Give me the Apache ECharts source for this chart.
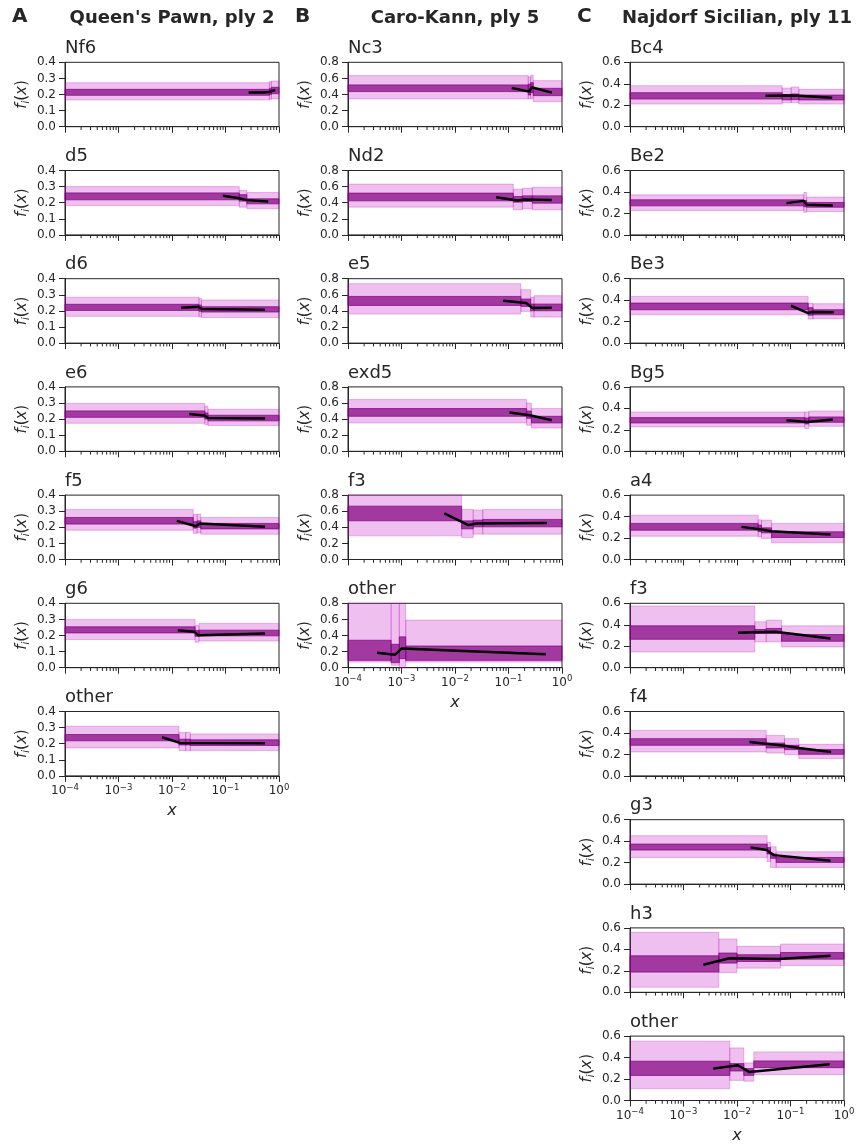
<!DOCTYPE html>
<html>
<head>
<meta charset="utf-8">
<script src="https://cdn.jsdelivr.net/npm/echarts@6/dist/echarts.min.js"></script>
<style>
  html, body { margin: 0; padding: 0; background: #fff; }
  #main { width: 860px; height: 1146px; }
</style>
</head>
<body>
<div id="main"></div>
<script>
// each bin: [x0, x1, outerLo, outerHi, innerLo, innerHi]; each line point: [x, f]
var xMinorTicks = [2e-4, 3e-4, 4e-4, 5e-4, 6e-4, 7e-4, 8e-4, 9e-4,
  2e-3, 3e-3, 4e-3, 5e-3, 6e-3, 7e-3, 8e-3, 9e-3,
  2e-2, 3e-2, 4e-2, 5e-2, 6e-2, 7e-2, 8e-2, 9e-2,
  0.2, 0.3, 0.4, 0.5, 0.6, 0.7, 0.8, 0.9];

// A - Queen's Pawn, ply 2
var qpMoves = ['Nf6', 'd5', 'd6', 'e6', 'f5', 'g6', 'other'];
var qpNf6Bins = [[1e-4, 0.66, 0.166, 0.273, 0.195, 0.232], [0.66, 0.72, 0.170, 0.280, 0.200, 0.236], [0.72, 1, 0.172, 0.284, 0.205, 0.245]];
var qpNf6Line = [[0.27, 0.213], [0.5, 0.212], [0.66, 0.216], [0.85, 0.228]];
var qpD5Bins = [[1e-4, 0.181, 0.182, 0.300, 0.218, 0.261], [0.181, 0.25, 0.172, 0.276, 0.210, 0.250], [0.25, 1, 0.162, 0.263, 0.193, 0.224]];
var qpD5Line = [[0.089, 0.243], [0.18, 0.228], [0.25, 0.216], [0.63, 0.208]];
var qpD6Bins = [[1e-4, 0.032, 0.166, 0.285, 0.203, 0.241], [0.032, 0.0355, 0.162, 0.278, 0.198, 0.236], [0.0355, 1, 0.159, 0.268, 0.193, 0.226]];
var qpD6Line = [[0.0148, 0.220], [0.031, 0.226], [0.036, 0.212], [0.55, 0.207]];
var qpE6Bins = [[1e-4, 0.041, 0.174, 0.297, 0.211, 0.251], [0.041, 0.047, 0.165, 0.280, 0.200, 0.238], [0.047, 1, 0.160, 0.261, 0.189, 0.224]];
var qpE6Line = [[0.021, 0.232], [0.041, 0.222], [0.047, 0.207], [0.55, 0.203]];
var qpF5Bins = [[1e-4, 0.025, 0.182, 0.311, 0.220, 0.261], [0.025, 0.0295, 0.162, 0.280, 0.195, 0.235], [0.0295, 0.0345, 0.165, 0.282, 0.200, 0.240], [0.0345, 1, 0.157, 0.261, 0.190, 0.224]];
var qpF5Line = [[0.0123, 0.240], [0.028, 0.207], [0.033, 0.224], [0.55, 0.203]];
var qpG6Bins = [[1e-4, 0.027, 0.175, 0.300, 0.216, 0.254], [0.027, 0.032, 0.158, 0.262, 0.195, 0.232], [0.032, 1, 0.166, 0.275, 0.198, 0.233]];
var qpG6Line = [[0.0128, 0.233], [0.026, 0.223], [0.031, 0.202], [0.55, 0.212]];
var qpOtherBins = [[1e-4, 0.0135, 0.174, 0.309, 0.218, 0.257], [0.0135, 0.018, 0.157, 0.271, 0.192, 0.228], [0.018, 0.022, 0.157, 0.270, 0.192, 0.228], [0.022, 1, 0.157, 0.261, 0.189, 0.224]];
var qpOtherLine = [[0.0065, 0.240], [0.014, 0.205], [0.55, 0.203]];

// B - Caro-Kann, ply 5
var ckMoves = ['Nc3', 'Nd2', 'e5', 'exd5', 'f3', 'other'];
var ckNc3Bins = [[1e-4, 0.234, 0.345, 0.635, 0.436, 0.519], [0.234, 0.26, 0.345, 0.620, 0.394, 0.530], [0.26, 0.29, 0.345, 0.640, 0.423, 0.547], [0.29, 1, 0.311, 0.572, 0.386, 0.477]];
var ckNc3Line = [[0.115, 0.481], [0.245, 0.436], [0.27, 0.49], [0.645, 0.423]];
var ckNd2Bins = [[1e-4, 0.123, 0.345, 0.631, 0.423, 0.519], [0.123, 0.182, 0.311, 0.568, 0.407, 0.477], [0.182, 0.279, 0.323, 0.580, 0.415, 0.485], [0.279, 1, 0.311, 0.593, 0.394, 0.485]];
var ckNd2Line = [[0.059, 0.469], [0.148, 0.427], [0.2, 0.44], [0.645, 0.435]];
var ckE5Bins = [[1e-4, 0.17, 0.361, 0.738, 0.468, 0.580], [0.17, 0.26, 0.394, 0.663, 0.456, 0.547], [0.26, 0.30, 0.323, 0.570, 0.402, 0.485], [0.30, 1, 0.323, 0.589, 0.402, 0.485]];
var ckE5Line = [[0.079, 0.526], [0.214, 0.498], [0.28, 0.435], [0.645, 0.44]];
var ckExd5Bins = [[1e-4, 0.218, 0.352, 0.643, 0.435, 0.531], [0.218, 0.268, 0.323, 0.600, 0.410, 0.500], [0.268, 1, 0.290, 0.531, 0.352, 0.435]];
var ckExd5Line = [[0.104, 0.481], [0.25, 0.448], [0.645, 0.386]];
var ckF3Bins = [[1e-4, 0.0133, 0.294, 0.8, 0.481, 0.663], [0.0133, 0.0219, 0.274, 0.622, 0.381, 0.480], [0.0219, 0.033, 0.315, 0.614, 0.406, 0.489], [0.033, 1, 0.315, 0.622, 0.406, 0.498]];
var ckF3Line = [[0.0063, 0.572], [0.0178, 0.427], [0.025, 0.448], [0.52, 0.452]];
var ckOtherBins = [[1e-4, 0.00064, 0.07, 0.8, 0.091, 0.341], [0.00064, 0.00091, 0.03, 0.8, 0.062, 0.291], [0.00091, 0.0012, 0.0, 0.8, 0.112, 0.383], [0.0012, 1, 0.07, 0.591, 0.091, 0.27]];
var ckOtherLine = [[0.00035, 0.187], [0.00076, 0.162], [0.001, 0.237], [0.5, 0.166]];

// C - Najdorf Sicilian, ply 11
var nsMoves = ['Bc4', 'Be2', 'Be3', 'Bg5', 'a4', 'f3', 'f4', 'g3', 'h3', 'other'];
var nsBc4Bins = [[1e-4, 0.070, 0.211, 0.382, 0.258, 0.317], [0.070, 0.103, 0.224, 0.360, 0.250, 0.300], [0.103, 0.143, 0.224, 0.370, 0.252, 0.305], [0.143, 1, 0.211, 0.348, 0.249, 0.295]];
var nsBc4Line = [[0.034, 0.289], [0.105, 0.291], [0.14, 0.288], [0.60, 0.27]];
var nsBe2Bins = [[1e-4, 0.177, 0.227, 0.373, 0.271, 0.327], [0.177, 0.20, 0.210, 0.395, 0.262, 0.320], [0.20, 1, 0.218, 0.352, 0.258, 0.302]];
var nsBe2Line = [[0.084, 0.296], [0.177, 0.317], [0.20, 0.28], [0.62, 0.274]];
var nsBe3Bins = [[1e-4, 0.214, 0.264, 0.435, 0.311, 0.373], [0.214, 0.263, 0.224, 0.370, 0.260, 0.330], [0.263, 1, 0.227, 0.367, 0.264, 0.311]];
var nsBe3Line = [[0.102, 0.348], [0.214, 0.28], [0.25, 0.29], [0.645, 0.288]];
var nsBg5Bins = [[1e-4, 0.185, 0.227, 0.367, 0.264, 0.314], [0.185, 0.22, 0.212, 0.367, 0.255, 0.310], [0.22, 1, 0.233, 0.376, 0.27, 0.320]];
var nsBg5Line = [[0.084, 0.289], [0.204, 0.273], [0.62, 0.296]];
var nsA4Bins = [[1e-4, 0.0249, 0.217, 0.413, 0.273, 0.336], [0.0249, 0.0287, 0.21, 0.37, 0.26, 0.32], [0.0287, 0.0442, 0.196, 0.367, 0.248, 0.295], [0.0442, 1, 0.155, 0.336, 0.205, 0.258]];
var nsA4Line = [[0.0121, 0.304], [0.0287, 0.28], [0.0442, 0.264], [0.56, 0.233]];
var nsF3Bins = [[1e-4, 0.0215, 0.147, 0.575, 0.265, 0.39], [0.0215, 0.0352, 0.24, 0.428, 0.319, 0.356], [0.0352, 0.068, 0.24, 0.443, 0.319, 0.366], [0.068, 1, 0.193, 0.39, 0.246, 0.309]];
var nsF3Line = [[0.0104, 0.325], [0.052, 0.334], [0.56, 0.272]];
var nsF4Bins = [[1e-4, 0.0352, 0.223, 0.424, 0.285, 0.347], [0.0352, 0.0773, 0.213, 0.377, 0.26, 0.306], [0.0773, 0.143, 0.198, 0.347, 0.245, 0.285], [0.143, 1, 0.161, 0.294, 0.201, 0.245]];
var nsF4Line = [[0.0171, 0.315], [0.035, 0.30], [0.077, 0.28], [0.143, 0.26], [0.575, 0.223]];
var nsG3Bins = [[1e-4, 0.0366, 0.248, 0.451, 0.317, 0.373], [0.0366, 0.0423, 0.21, 0.39, 0.28, 0.34], [0.0423, 0.054, 0.155, 0.348, 0.24, 0.28], [0.054, 1, 0.155, 0.301, 0.202, 0.248]];
var nsG3Line = [[0.0179, 0.342], [0.0356, 0.317], [0.049, 0.27], [0.56, 0.217]];
var nsH3Bins = [[1e-4, 0.00457, 0.047, 0.559, 0.188, 0.34], [0.00457, 0.01, 0.184, 0.497, 0.272, 0.366], [0.01, 0.065, 0.225, 0.428, 0.287, 0.35], [0.065, 1, 0.25, 0.45, 0.309, 0.371]];
var nsH3Line = [[0.00235, 0.256], [0.0072, 0.318], [0.06, 0.31], [0.56, 0.34]];
var nsOtherBins = [[1e-4, 0.00733, 0.109, 0.553, 0.234, 0.366], [0.00733, 0.0134, 0.1875, 0.49, 0.275, 0.344], [0.0134, 0.0206, 0.18, 0.35, 0.234, 0.297], [0.0206, 1, 0.241, 0.453, 0.306, 0.369]];
var nsOtherLine = [[0.00359, 0.297], [0.0104, 0.328], [0.0171, 0.265], [0.54, 0.337]];

var columns = [
  { letter: 'A', title: "Queen's Pawn, ply 2", left: 65, ymax: 0.4, step: 0.1, moves: qpMoves,
    bins: [qpNf6Bins, qpD5Bins, qpD6Bins, qpE6Bins, qpF5Bins, qpG6Bins, qpOtherBins],
    lines: [qpNf6Line, qpD5Line, qpD6Line, qpE6Line, qpF5Line, qpG6Line, qpOtherLine] },
  { letter: 'B', title: 'Caro-Kann, ply 5', left: 348, ymax: 0.8, step: 0.2, moves: ckMoves,
    bins: [ckNc3Bins, ckNd2Bins, ckE5Bins, ckExd5Bins, ckF3Bins, ckOtherBins],
    lines: [ckNc3Line, ckNd2Line, ckE5Line, ckExd5Line, ckF3Line, ckOtherLine] },
  { letter: 'C', title: 'Najdorf Sicilian, ply 11', left: 630, ymax: 0.6, step: 0.2, moves: nsMoves,
    bins: [nsBc4Bins, nsBe2Bins, nsBe3Bins, nsBg5Bins, nsA4Bins, nsF3Bins, nsF4Bins, nsG3Bins, nsH3Bins, nsOtherBins],
    lines: [nsBc4Line, nsBe2Line, nsBe3Line, nsBg5Line, nsA4Line, nsF3Line, nsF4Line, nsG3Line, nsH3Line, nsOtherLine] }
];

var ink = '#262626';
var font = 'DejaVu Sans';
var rowTop = 62.3, rowStep = 108.2, plotH = 64.4, plotW = 214;

function bandRenderer(color) {
  return function (params, api) {
    var p0 = api.coord([api.value(0), api.value(3)]);
    var p1 = api.coord([api.value(1), api.value(2)]);
    return {
      type: 'rect',
      shape: { x: p0[0], y: p0[1], width: p1[0] - p0[0], height: p1[1] - p0[1] },
      style: { fill: color, stroke: color, lineWidth: 1 }
    };
  };
}

function minorTick(params, api) {
  var p = api.coord([api.value(0), 0]);
  return {
    type: 'line',
    shape: { x1: p[0], y1: p[1], x2: p[0], y2: p[1] + 3.3 },
    style: { stroke: ink, lineWidth: 1 }
  };
}

function powLabel(v) {
  var e = Math.round(Math.log(v) / Math.LN10);
  return '{b|10}{s|' + (e < 0 ? '\u2212' + (-e) : e) + '}';
}

var grids = [], xAxes = [], yAxes = [], series = [], texts = [];

columns.forEach(function (col) {
  texts.push({ type: 'text', x: col.left - 53, y: 17,
    style: { text: col.letter, fontSize: 20, fontWeight: 'bold', fontFamily: font, fill: ink,
      textAlign: 'left', textVerticalAlign: 'middle' } });
  texts.push({ type: 'text', x: col.left + plotW / 2, y: 18,
    style: { text: col.title, fontSize: 18, fontWeight: 'bold', fontFamily: font, fill: ink,
      textAlign: 'center', textVerticalAlign: 'middle' } });

  col.moves.forEach(function (mv, i) {
    var gi = grids.length;
    var top = rowTop + rowStep * i;
    var last = i === col.moves.length - 1;

    texts.push({ type: 'text', x: col.left, y: top - 14,
      style: { text: mv, fontSize: 18, fontFamily: font, fill: ink,
        textAlign: 'left', textVerticalAlign: 'middle' } });

    grids.push({ left: col.left, top: top, width: plotW, height: plotH,
      show: true, borderColor: ink, borderWidth: 1, containLabel: false, outerBoundsMode: 'none' });

    xAxes.push({
      type: 'log', logBase: 10, gridIndex: gi, min: 1e-4, max: 1,
      axisLine: { show: true, onZero: false, lineStyle: { color: ink, width: 1 } },
      axisTick: { show: true, length: 6, lineStyle: { color: ink, width: 1 } },
      axisLabel: {
        show: last, margin: 7, formatter: powLabel,
        rich: {
          b: { fontSize: 12, fontFamily: font, color: ink, lineHeight: 16 },
          s: { fontSize: 8.5, fontFamily: font, color: ink, lineHeight: 8, verticalAlign: 'top' }
        }
      },
      splitLine: { show: false },
      name: last ? 'x' : '', nameLocation: 'middle', nameGap: 27,
      nameTextStyle: { fontStyle: 'italic', fontSize: 16, color: ink, fontFamily: font }
    });

    yAxes.push({
      type: 'value', gridIndex: gi, min: 0, max: col.ymax, interval: col.step,
      axisLine: { show: true, lineStyle: { color: ink, width: 1 } },
      axisTick: { show: true, length: 6, lineStyle: { color: ink, width: 1 } },
      axisLabel: { margin: 9, fontSize: 12, color: ink, fontFamily: font,
        formatter: function (v) { return v.toFixed(1); } },
      splitLine: { show: false },
      name: '{f|f}{s|i}{p|(}{f|x}{p|)}', nameLocation: 'middle', nameGap: 34, nameRotate: 90,
      nameTextStyle: {
        rich: {
          f: { fontSize: 15, fontStyle: 'italic', fontFamily: font, color: ink, lineHeight: 18 },
          s: { fontSize: 10, fontStyle: 'italic', fontFamily: font, color: ink, lineHeight: 10, verticalAlign: 'bottom' },
          p: { fontSize: 15, fontFamily: font, color: ink, lineHeight: 18 }
        }
      }
    });

    var bins = col.bins[i];
    series.push({
      type: 'custom', xAxisIndex: gi, yAxisIndex: gi, silent: true, z: 2,
      renderItem: bandRenderer('rgba(191,0,191,0.25)'),
      encode: { x: [0, 1], y: [2, 3] },
      data: bins.map(function (b) { return [b[0], b[1], b[2], b[3]]; })
    });
    series.push({
      type: 'custom', xAxisIndex: gi, yAxisIndex: gi, silent: true, z: 3,
      renderItem: bandRenderer('rgba(128,0,128,0.7)'),
      encode: { x: [0, 1], y: [2, 3] },
      data: bins.map(function (b) { return [b[0], b[1], b[4], b[5]]; })
    });
    series.push({
      type: 'line', xAxisIndex: gi, yAxisIndex: gi, silent: true, z: 5,
      symbol: 'none', lineStyle: { color: '#000', width: 2.5 },
      data: col.lines[i]
    });
    series.push({
      type: 'custom', xAxisIndex: gi, yAxisIndex: gi, silent: true, clip: false, z: 6,
      renderItem: minorTick, encode: { x: 0, y: 1 },
      data: xMinorTicks.map(function (v) { return [v, 0]; })
    });
  });
});

var chart = echarts.init(document.getElementById('main'));
chart.setOption({
  animation: false,
  backgroundColor: '#fff',
  grid: grids,
  xAxis: xAxes,
  yAxis: yAxes,
  series: series,
  graphic: texts
});
</script>
</body>
</html>
